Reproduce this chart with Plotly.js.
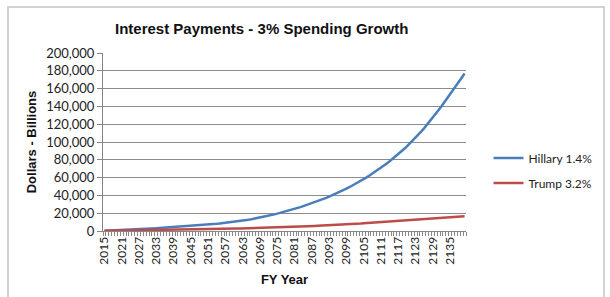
<!DOCTYPE html>
<html>
<head>
<meta charset="utf-8">
<script src="https://cdn.plot.ly/plotly-3.0.1.min.js"></script>
<style>
html,body{margin:0;padding:0;background:#fff;}
#wrap{position:relative;width:610px;height:297px;overflow:hidden;}
#chart{width:610px;height:297px;}
#frame{position:absolute;left:7px;top:6px;width:598px;height:320px;border:2px solid #d2d2d2;pointer-events:none;box-sizing:border-box;}
</style>
</head>
<body>
<div id="wrap"><div id="chart"></div><div id="frame"></div></div>
<script>
// Fiscal years (categories)
const years = [
"2015","2016","2017","2018","2019","2020","2021","2022","2023","2024",
"2025","2026","2027","2028","2029","2030","2031","2032","2033","2034",
"2035","2036","2037","2038","2039","2040","2041","2042","2043","2044",
"2045","2046","2047","2048","2049","2050","2051","2052","2053","2054",
"2055","2056","2057","2058","2059","2060","2061","2062","2063","2064",
"2065","2066","2067","2068","2069","2070","2071","2072","2073","2074",
"2075","2076","2077","2078","2079","2080","2081","2082","2083","2084",
"2085","2086","2087","2088","2089","2090","2091","2092","2093","2094",
"2095","2096","2097","2098","2099","2100","2101","2102","2103","2104",
"2105","2106","2107","2108","2109","2110","2111","2112","2113","2114",
"2115","2116","2117","2118","2119","2120","2121","2122","2123","2124",
"2125","2126","2127","2128","2129","2130","2131","2132","2133","2134",
"2135","2136","2137","2138","2139","2140"];

// Hillary 1.4% – interest payments ($ billions)
const hillary = [
250,356,468,586,710,840,976,1118,1266,1420,
1580,1746,1918,2096,2280,2470,2662,2856,3052,3250,
3450,3652,3856,4062,4270,4480,4692,4906,5122,5340,
5560,5792,6036,6292,6560,6840,7132,7436,7752,8080,
8420,8772,9136,9512,9900,10300,10727,11180,11660,12167,
12700,13260,13847,14460,15100,15767,16460,17180,17927,18700,
19500,20327,21180,22060,22967,23900,24860,25847,26860,27900,
28967,30060,31180,32327,33500,34700,35945,37235,38570,39950,
41375,42845,44360,45920,47525,49175,50880,52640,54455,56325,
58250,60230,62265,64355,66500,68700,70980,73340,75780,78300,
80900,83580,86340,89180,92100,95100,98220,101460,104820,108300,
111900,115620,119460,123420,127500,131700,135960,140280,144660,149100,
153600,158160,162780,167460,172200,177000];

// Trump 3.2% – interest payments ($ billions)
const trump = [
300,340,380,420,460,500,540,580,620,660,
700,730,760,790,820,850,880,910,940,970,
1000,1040,1080,1120,1160,1200,1260,1320,1380,1440,
1500,1560,1620,1680,1740,1800,1880,1960,2040,2120,
2200,2280,2360,2440,2520,2600,2680,2760,2840,2920,
3000,3100,3200,3300,3400,3500,3600,3700,3800,3900,
4000,4120,4240,4360,4480,4600,4720,4840,4960,5080,
5200,5340,5480,5620,5760,5900,6060,6220,6380,6540,
6700,6860,7020,7180,7340,7500,7760,8020,8280,8540,
8800,9020,9240,9460,9680,9900,10120,10340,10560,10780,
11000,11220,11440,11660,11880,12100,12320,12540,12760,12980,
13200,13460,13720,13980,14240,14500,14700,14900,15100,15300,
15500,15700,15900,16100,16300,16500];

// Shown x tick labels
const tickLabels = ["2015","2021","2027","2033","2039","2045","2051","2057","2063","2069",
"2075","2081","2087","2093","2099","2105","2111","2117","2123","2129","2135"];

const seriesNames = ["Hillary 1.4%","Trump 3.2%"];

const tickFont = {family:"Lato, 'Liberation Sans', sans-serif", size:13, color:"#222"};
const xTickFont = {family:"Lato, 'Liberation Sans', sans-serif", size:12, color:"#222"};
const boldFont = {family:"'Liberation Sans', Arial, sans-serif", size:13, color:"#111", weight:"bold"};

const traces = [
  {x:years, y:hillary, type:"scatter", mode:"lines", name:seriesNames[0], legendgroup:"a",
   line:{color:"#4a7ebb", width:2.5}},
  {x:years, y:trump, type:"scatter", mode:"lines", name:seriesNames[1], legendgroup:"b",
   line:{color:"#be4b48", width:2.5}}
];

const layout = {
  width:610, height:297,
  margin:{l:103, r:133, t:53, b:66, pad:0},
  paper_bgcolor:"#fff", plot_bgcolor:"#fff",
  title:{text:"Interest Payments - 3% Spending Growth", x:0.429, xanchor:"center",
         y:0.903, yanchor:"middle", yref:"container",
         font:{family:"'Liberation Sans', Arial, sans-serif", size:15, color:"#111", weight:"bold"}},
  xaxis:{type:"category", categoryorder:"array", categoryarray:years,
         range:[-0.5, years.length-0.5], autorange:false,
         tickvals:years, ticktext:years.map(y => tickLabels.includes(y) ? y : ""),
         tickangle:-90, tickfont:xTickFont, ticks:"outside", ticklen:4, tickcolor:"#888",
         tickson:"boundaries",
         showline:true, linecolor:"#868686", linewidth:1, showgrid:false, zeroline:false,
         automargin:false,
         title:{text:"FY Year", font:boldFont, standoff:11}},
  yaxis:{range:[0,200000], autorange:false, dtick:20000, tick0:0, tickformat:",d",
         tickfont:tickFont, ticks:"outside", ticklen:5, tickcolor:"#868686",
         showline:true, linecolor:"#868686", linewidth:1,
         showgrid:true, gridcolor:"#8c8c8c", gridwidth:1, zeroline:false,
         automargin:false,
         title:{text:"Dollars - Billions", font:boldFont, standoff:6}},
  showlegend:true,
  legend:{x:1.062, xanchor:"left", y:0.34, yanchor:"middle", traceorder:"grouped",
          tracegroupgap:6, font:{family:"Lato, 'Liberation Sans', sans-serif", size:12, color:"#222"},
          bgcolor:"rgba(0,0,0,0)", borderwidth:0}
};

Plotly.newPlot("chart", traces, layout, {displayModeBar:false, staticPlot:true});
</script>
</body>
</html>
